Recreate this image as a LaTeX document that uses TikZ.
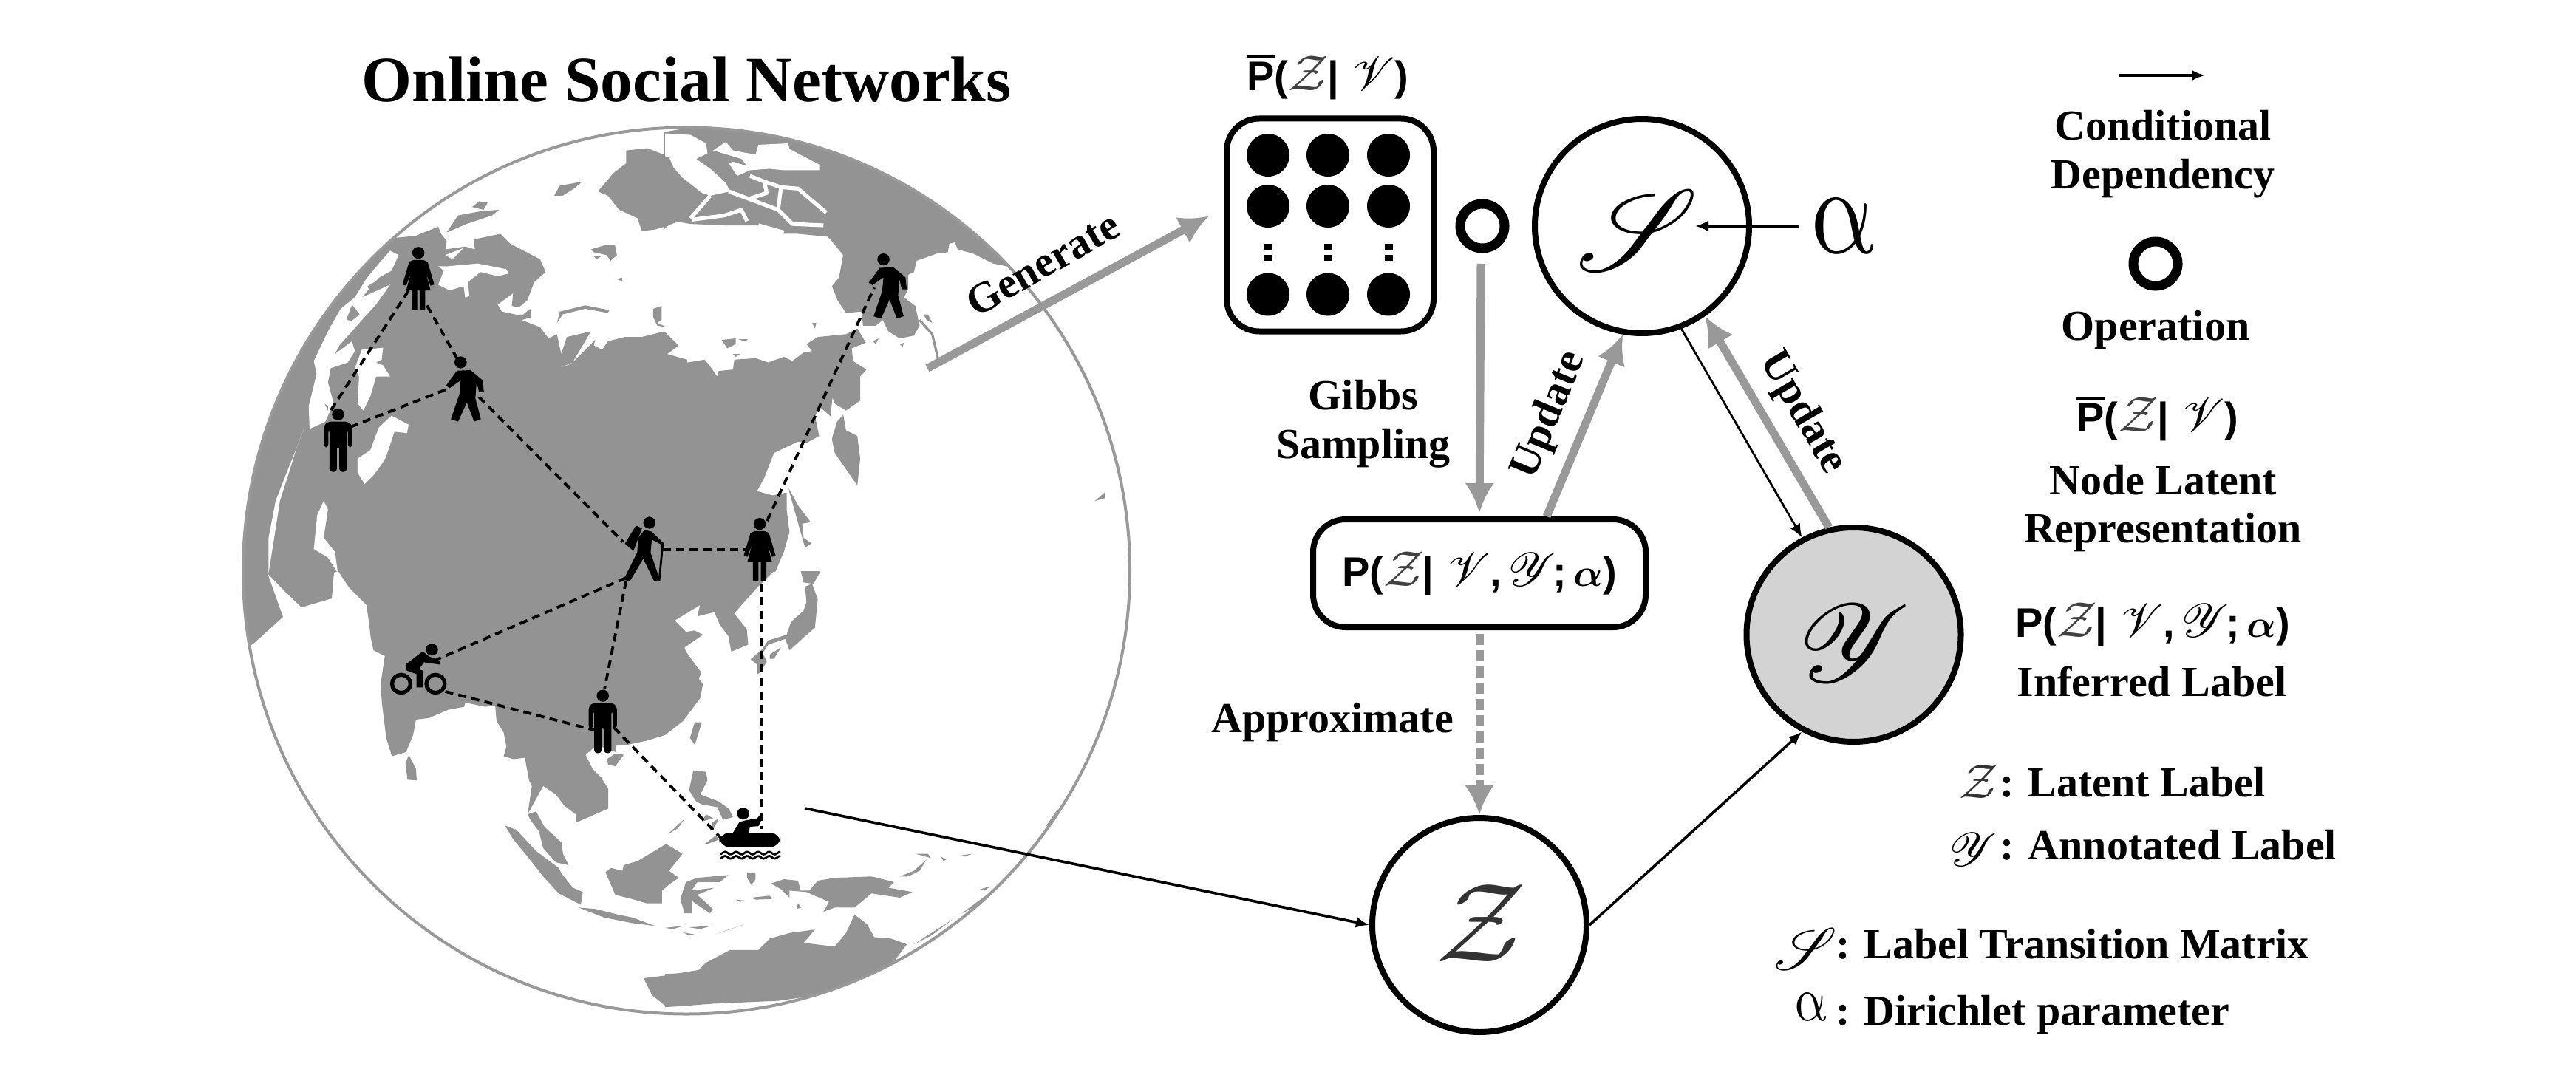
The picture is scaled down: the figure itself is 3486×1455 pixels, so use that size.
\documentclass[tikz,border=0pt]{standalone}
\usepackage{fontspec}
\usepackage{graphicx}
\usepackage{mathrsfs}
\setmainfont{Liberation Serif}
\newfontfamily\arialf{Liberation Sans}
\usetikzlibrary{arrows.meta}
\definecolor{landc}{HTML}{939393}
\definecolor{greya}{HTML}{999999}
\definecolor{ygrey}{HTML}{D3D3D3}
\newcommand\fsz[1]{\fontsize{#1}{#1}\selectfont}
\newcommand\scg[2]{\scalebox{#1}{\fontsize{10}{10}\selectfont$\mathscr{#2}$}}
\newcommand\calz[1]{\scalebox{#1}{\fontsize{10}{10}\selectfont$\mathcal{Z}$}}
\newcommand\bigalpha[2]{\scalebox{#1}[#2]{\fontsize{10}{10}\selectfont$\alpha$}}
\newcommand\Plab{{\fsz{28}\arialf\bfseries P(\textcolor{black!75}{\calz{3.4}}\hspace{-1pt}|\,\,\scg{3.2}{V},\,\scg{3.2}{Y}\hspace{-2pt};\,\scalebox{1.05}{\boldmath$\alpha$})}}
\newcommand\Pbar{{\fsz{28}\arialf\bfseries \rlap{\raisebox{0.78em}{\rule{0.667em}{0.06em}}}P(\textcolor{black!75}{\calz{3.4}}\hspace{-1pt}|\,\,\scg{3.2}{V})}}
\tikzset{
  land/.style={fill=landc,draw=none},
  sea/.style={fill=white,draw=none},
  chan/.style={draw=white,line width=2.6pt},
  bigc/.style={circle,draw=black,line width=4pt,minimum size=145pt,inner sep=0pt,outer sep=2pt},
  rbox/.style={draw=black,line width=4pt,rounded corners=22pt,inner sep=0pt,outer sep=2pt},
  ringn/.style={circle,draw=black,line width=6.5pt,minimum size=30pt,inner sep=0pt,outer sep=3pt},
  thinarr/.style={draw=black,line width=1.8pt,-{Latex[length=9pt,width=7.5pt]}},
  grayarr/.style={draw=greya,line width=5.5pt,-{Latex[length=20pt,width=20pt]}},
  link/.style={draw=black,line width=1.9pt,dash pattern=on 5.5pt off 3.6pt},
  serb/.style={font=\fsz{29}\bfseries,inner sep=0pt,outer sep=0pt},
  pers/.style={fill=black,draw=none},
  man/.pic={
    \fill[pers] (0,-43) circle [radius=10];
    \fill[pers,rounded corners=2pt] (-16,-31) -- (16,-31) -- (23,-25) -- (23,12) -- (16,12) -- (16,-18) -- (14,-18) -- (14,53) -- (2,53) -- (2,10) -- (-2,10) -- (-2,53) -- (-14,53) -- (-14,-18) -- (-16,-18) -- (-16,12) -- (-23,12) -- (-23,-25) -- cycle;
  },
  woman/.pic={
    \fill[pers] (0,-43) circle [radius=10];
    \fill[pers] (-8,-31) -- (8,-31) -- (15,-28) -- (26,10) -- (20,12) -- (12,-10) -- (20,20) -- (11,20) -- (11,53) -- (2,53) -- (2,20) -- (-2,20) -- (-2,53) -- (-11,53) -- (-11,20) -- (-20,20) -- (-12,-10) -- (-20,12) -- (-26,10) -- (-15,-28) -- cycle;
  },
  walker/.pic={
    \fill[pers] (-8,-45) circle [radius=10];
    \fill[pers] (-14,-31) -- (8,-32) -- (28,-15) -- (30,5) -- (22,5) -- (18,-12) -- (16,15) -- (25,50) -- (14,54) -- (2,22) -- (-12,54) -- (-24,50) -- (-10,8) -- (-8,-15) -- (-26,-2) -- (-32,-6) -- cycle;
  },
  hiker/.pic={
    \fill[pers] (8,-45) circle [radius=10];
    \fill[pers] (0,-33) -- (12,-30) -- (30,-12) -- (30,-7) -- (12,-17) -- (10,5) -- (25,50) -- (16,53) -- (-2,15) -- (-24,53) -- (-34,50) -- (-12,5) -- (-10,-20) -- cycle;
    \fill[pers] (-14,-40) -- (-4,-36) -- (-18,2) -- (-32,-10) -- cycle;
    \draw[black,line width=1.4pt] (30,-12) -- (24,52);
  },
  cyclist/.pic={
    \fill[pers] (23,-33) circle [radius=10];
    \draw[black,line width=2.6pt] (-27,24) circle [radius=15] (29,24) circle [radius=15];
    \fill[pers] (-20,-8) -- (8,-30) -- (18,-22) -- (36,-14) -- (36,-8) -- (10,-12) -- (2,0) -- (8,2) -- (8,30) -- (-2,30) -- (-2,8) -- (-18,2) -- cycle;
  },
  rafter/.pic={
    \fill[pers] (-11,-36) circle [radius=10];
    \fill[pers] (-30,0) -- (-17,-22) -- (-6,-25) -- (12,-28) -- (18,-36) -- (22,-32) -- (14,-15) -- (0,-14) -- (-2,0) -- cycle;
    \fill[pers,rounded corners=7pt] (-50,-4) rectangle (50,20);
    \foreach \yy in {30,37} \draw[black,line width=1.4pt] plot[domain=-48:50,samples=40] (\x,{\yy+2.2*sin(\x*20)});
  }
}
\begin{document}
\begin{tikzpicture}[x=0.5pt,y=-0.5pt]
\useasboundingbox (0,0) rectangle (3486,1455);
\begin{scope}
\clip (929,772.5) circle [radius=600];
% far west strip below the top-left quadrant
\fill[land] (300,700) -- (300,890) -- (342,872) -- (383,835) -- (362,776) -- (383,798) -- (408,822) -- (449,810) -- (452,775) -- (460,770) -- (470,700) -- cycle;
% ---- top-left quadrant
\begin{scope}[shift={(329,173)},scale=0.38265]
\fill[land] (0,1570) -- (-50,1200) -- (100,800) -- (300,550) -- (530,390) -- (610,382) -- (690,350) -- (700,375) -- (720,400) -- (715,430) -- (785,420) -- (820,430) -- (815,395) -- (910,375) -- (945,410) -- (1050,465) -- (1070,510) -- (1030,545) -- (1005,610) -- (975,635) -- (950,630) -- (955,585) -- (900,625) -- (915,650) -- (985,665) -- (1015,640) -- (1020,670) -- (985,680) -- (1050,705) -- (1080,745) -- (1110,730) -- (1125,800) -- (1145,740) -- (1230,720) -- (1165,830) -- (1105,855) -- (1160,835) -- (1245,750) -- (1240,770) -- (1270,785) -- (1290,755) -- (1350,740) -- (1410,740) -- (1490,720) -- (1540,770) -- (1500,800) -- (1570,820) -- (1570,1570) -- cycle;
\fill[sea] (690,490) -- (720,490) -- (830,480) -- (930,500) -- (940,515) -- (900,525) -- (840,510) -- (795,545) -- (800,595) -- (785,600) -- (780,560) -- (730,575) -- (690,555) -- (710,505) -- cycle;
\fill[sea] (715,450) -- (780,425) -- (740,465) -- cycle;
\fill[sea] (520,435) -- (550,450) -- (525,505) -- (480,530) -- (420,600) -- (520,555) -- (470,625) -- (420,680) -- (340,770) -- (325,800) -- (385,755) -- (395,790) -- (370,830) -- (310,850) -- (300,900) -- (320,975) -- (290,1040) -- (235,1065) -- (232,985) -- (260,870) -- (250,825) -- (300,720) -- (345,640) -- (395,600) -- (435,535) -- (480,480) -- cycle;
\fill[land] (440,560) -- (500,525) -- (445,572) -- cycle;
\fill[land] (365,680) -- (385,625) -- (412,660) -- (385,682) -- cycle;
\fill[land] (288,975) -- (300,985) -- (300,1000) -- cycle;
\fill[sea] (610,382) -- (660,330) -- (690,318) -- (640,362) -- cycle;
\fill[sea] (545,385) -- (620,340) -- (600,352) -- cycle;
\fill[sea] (420,785) -- (495,778) -- (490,820) -- (470,830) -- (495,840) -- (520,880) -- (470,880) -- (450,950) -- (425,1000) -- (405,975) -- (410,880) -- (395,850) -- cycle;
\fill[sea] (525,1018) -- (585,1050) -- (580,1080) -- (535,1075) -- (505,1165) -- (490,1190) -- (460,1230) -- (430,1260) -- (405,1220) -- (405,1170) -- (450,1140) -- (480,1060) -- cycle;
\fill[sea] (215,1065) -- (190,1130) -- (150,1230) -- (115,1320) -- (90,1450) -- (90,1575) -- (110,1450) -- (130,1320) -- (165,1210) -- (190,1130) -- cycle;
\fill[sea] (285,1320) -- (300,1350) -- (285,1450) -- (325,1500) -- (335,1575) -- (300,1520) -- (250,1490) -- (262,1370) -- cycle;
\fill[land] (1355,80) -- (1430,72) -- (1500,100) -- (1510,140) -- (1570,220) -- (1570,320) -- (1490,350) -- (1455,360) -- (1410,365) -- (1395,320) -- (1330,290) -- (1290,240) -- (1255,225) -- (1310,160) -- (1355,125) -- cycle;
\fill[land] (1100,240) -- (1120,205) -- (1200,190) -- (1170,215) -- (1130,240) -- cycle;
\fill[land] (810,280) -- (835,260) -- (865,265) -- (850,290) -- cycle;
\fill[land] (720,370) -- (760,310) -- (840,295) -- (905,290) -- (880,310) -- (790,340) -- cycle;
\fill[land] (1230,430) -- (1280,415) -- (1315,415) -- (1322,450) -- (1300,470) -- (1285,450) -- (1240,440) -- cycle;
\fill[land] (1240,455) -- (1265,455) -- (1250,465) -- cycle;
\fill[land] (1320,535) -- (1340,530) -- (1340,542) -- cycle;
\fill[land] (1110,690) -- (1120,650) -- (1210,628) -- (1295,645) -- (1290,655) -- (1210,640) -- (1130,660) -- cycle;
\fill[land] (1450,640) -- (1480,630) -- (1480,680) -- (1465,690) -- (1498,705) -- (1465,700) -- (1450,670) -- cycle;
\end{scope}
% ---- top-right quadrant
\begin{scope}[shift={(900,173)},scale=0.38265]
\fill[land] (-5,15) -- (200,-20) -- (600,60) -- (1000,290) -- (1240,500) -- (1210,490) -- (1160,480) -- (1090,445) -- (1035,430) -- (1025,405) -- (1005,410) -- (1000,440) -- (960,445) -- (890,470) -- (880,510) -- (860,520) -- (860,570) -- (845,600) -- (885,630) -- (900,700) -- (880,735) -- (830,745) -- (790,720) -- (770,680) -- (745,700) -- (700,700) -- (695,650) -- (640,655) -- (610,610) -- (590,560) -- (615,530) -- (630,450) -- (585,395) -- (575,385) -- (470,375) -- (420,375) -- (330,345) -- (210,345) -- (90,340) -- (30,330) -- (-5,360) -- cycle;
\fill[sea] (0,20) -- (90,25) -- (145,55) -- (150,90) -- (110,110) -- (160,145) -- (215,195) -- (230,225) -- (160,240) -- (130,230) -- (60,175) -- (30,140) -- (15,105) -- (0,100) -- cycle;
\fill[sea] (215,50) -- (240,80) -- (320,95) -- (330,60) -- (435,55) -- (440,75) -- (545,130) -- (545,150) -- (420,150) -- (370,145) -- (300,150) -- (255,170) -- (225,125) -- (240,120) -- (290,135) -- (270,110) -- (170,80) -- cycle;
\draw[chan] (160,240) -- (90,320);
\draw[chan] (95,325) -- (210,310) -- (270,290) -- (290,330);
\draw[chan] (225,225) -- (320,260) -- (400,290);
\draw[chan] (300,170) -- (350,190) -- (360,230) -- (300,250);
\draw[chan] (410,210) -- (470,215) -- (570,300);
\draw[chan] (400,290) -- (450,340) -- (560,345);
\draw[chan] (330,345) -- (420,370);
\draw[chan] (350,190) -- (410,210) -- (400,290);
\draw[chan] (965,470) -- (990,485);
\draw[draw=landc,line width=1.6pt] (900,680) -- (945,730) -- (965,815);
\fill[land] (915,660) -- (930,660) -- (945,690) -- (925,680) -- cycle;
\fill[land] (0,800) -- (20,805) -- (80,830) -- (140,820) -- (160,845) -- (185,880) -- (190,860) -- (240,855) -- (245,820) -- (320,815) -- (365,830) -- (420,810) -- (450,825) -- (490,795) -- (520,790) -- (500,765) -- (540,740) -- (640,730) -- (660,720) -- (680,710) -- (710,760) -- (660,780) -- (665,825) -- (712,855) -- (690,880) -- (690,965) -- (640,1000) -- (600,975) -- (592,955) -- (585,1020) -- (550,990) -- (530,1020) -- (545,1090) -- (500,1115) -- (470,1110) -- (385,1150) -- (350,1240) -- (325,1285) -- (380,1300) -- (430,1290) -- (430,1350) -- (440,1430) -- (420,1500) -- (390,1570) -- (0,1570) -- cycle;
\fill[land] (630,1015) -- (640,1070) -- (680,1090) -- (690,1170) -- (680,1265) -- (600,1150) -- (590,1100) -- (608,1040) -- cycle;
\fill[land] (437,1275) -- (470,1335) -- (515,1395) -- (485,1400) -- (490,1450) -- (518,1470) -- (495,1485) -- (440,1290) -- cycle;
\fill[land] (735,755) -- (755,745) -- (745,765) -- cycle;
\fill[land] (830,765) -- (845,760) -- (840,775) -- cycle;
\fill[land] (200,750) -- (250,745) -- (250,765) -- (220,780) -- cycle;
\fill[land] (260,748) -- (292,748) -- (285,756) -- cycle;
\fill[land] (240,800) -- (265,800) -- (250,810) -- cycle;
\fill[land] (520,690) -- (535,690) -- (530,710) -- cycle;
\fill[land] (1520,1320) -- (1555,1290) -- (1555,1310) -- cycle;
\end{scope}
% ---- bottom-left quadrant
\begin{scope}[shift={(450,773)},scale=0.38265]
\fill[land] (20,-5) -- (20,0) -- (60,60) -- (120,120) -- (130,190) -- (135,235) -- (145,280) -- (185,300) -- (170,400) -- (175,470) -- (190,590) -- (210,655) -- (260,640) -- (285,580) -- (295,525) -- (340,520) -- (410,490) -- (465,480) -- (470,465) -- (540,480) -- (575,475) -- (580,530) -- (605,570) -- (615,620) -- (605,655) -- (640,665) -- (680,660) -- (695,740) -- (705,760) -- (690,860) -- (745,760) -- (790,790) -- (820,830) -- (860,860) -- (860,890) -- (975,840) -- (975,770) -- (950,730) -- (920,700) -- (895,650) -- (935,615) -- (1000,640) -- (1005,615) -- (1040,615) -- (1110,600) -- (1176,580) -- (1240,530) -- (1300,450) -- (1310,400) -- (1295,380) -- (1305,360) -- (1250,285) -- (1245,270) -- (1310,225) -- (1280,210) -- (1250,215) -- (1210,175) -- (1300,120) -- (1290,160) -- (1350,145) -- (1370,190) -- (1400,230) -- (1410,285) -- (1470,260) -- (1465,205) -- (1420,150) -- (1500,60) -- (1566,-5) -- cycle;
\fill[land] (258,680) -- (270,650) -- (295,700) -- (298,740) -- (265,738) -- cycle;
\fill[land] (610,900) -- (650,915) -- (720,990) -- (800,1050) -- (810,1070) -- (850,1120) -- (885,1135) -- (878,1180) -- (800,1140) -- (745,1080) -- (690,1010) -- (640,950) -- cycle;
\fill[land] (690,860) -- (720,850) -- (750,905) -- (810,960) -- (815,1000) -- (835,1040) -- (790,1030) -- (745,980) -- (730,920) -- (700,880) -- cycle;
\fill[land] (870,1190) -- (930,1195) -- (1010,1215) -- (1060,1225) -- (1140,1255) -- (1060,1245) -- (960,1225) -- cycle;
\fill[land] (965,1065) -- (985,1050) -- (1025,1060) -- (1030,1040) -- (1080,1025) -- (1180,965) -- (1238,1000) -- (1190,1060) -- (1225,1085) -- (1195,1105) -- (1165,1130) -- (1165,1175) -- (1110,1175) -- (1060,1160) -- (1000,1145) -- (985,1110) -- cycle;
\fill[land] (970,665) -- (1000,645) -- (1030,650) -- (1000,690) -- (975,685) -- cycle;
\fill[land] (1250,1100) -- (1290,1085) -- (1400,1075) -- (1370,1100) -- (1290,1100) -- (1270,1130) -- (1350,1120) -- (1290,1145) -- (1345,1195) -- (1335,1210) -- (1290,1180) -- (1270,1165) -- (1270,1210) -- (1245,1210) -- (1230,1160) -- cycle;
\fill[land] (1175,1262) -- (1240,1255) -- (1205,1266) -- cycle;
\fill[land] (1240,1278) -- (1280,1285) -- (1260,1288) -- cycle;
\fill[land] (1260,1260) -- (1340,1255) -- (1300,1266) -- cycle;
\fill[land] (1355,1285) -- (1455,1250) -- (1400,1268) -- cycle;
\fill[land] (1100,1440) -- (1180,1430) -- (1300,1410) -- (1320,1500) -- (1180,1540) -- (1130,1500) -- cycle;
\end{scope}
% ---- bottom-right quadrant
\begin{scope}[shift={(900,773)},scale=0.38265]
\fill[land] (480,0) -- (550,0) -- (525,45) -- (490,40) -- cycle;
\fill[land] (495,55) -- (520,45) -- (540,100) -- (530,200) -- (490,235) -- (440,280) -- (425,240) -- (365,260) -- (345,290) -- (360,320) -- (335,360) -- (325,365) -- (325,330) -- (302,312) -- (340,280) -- (365,245) -- (430,225) -- (445,180) -- (490,140) -- (500,110) -- cycle;
\fill[land] (370,295) -- (410,270) -- (385,310) -- (370,310) -- cycle;
\fill[land] (105,535) -- (130,535) -- (105,615) -- (88,590) -- cycle;
\fill[land] (100,705) -- (145,710) -- (150,740) -- (125,790) -- (190,815) -- (225,840) -- (240,870) -- (205,880) -- (185,835) -- (130,825) -- (110,815) -- (85,775) -- cycle;
\fill[land] (145,860) -- (170,875) -- (130,885) -- cycle;
\fill[land] (165,890) -- (190,875) -- (170,915) -- cycle;
\fill[land] (140,965) -- (180,935) -- (190,950) -- (150,965) -- cycle;
\fill[land] (10,930) -- (70,875) -- (45,910) -- cycle;
\fill[land] (375,1105) -- (420,1090) -- (470,1095) -- (480,1130) -- (510,1130) -- (540,1095) -- (600,1085) -- (730,1080) -- (810,1100) -- (790,1120) -- (875,1135) -- (830,1155) -- (730,1140) -- (670,1190) -- (600,1190) -- (560,1205) -- (580,1170) -- (500,1135) -- (440,1130) -- (440,1155) -- (410,1125) -- cycle;
\fill[land] (290,1065) -- (320,1070) -- (320,1090) -- (305,1110) -- (290,1085) -- cycle;
\fill[land] (250,1162) -- (280,1165) -- (265,1170) -- cycle;
\fill[land] (305,1155) -- (370,1148) -- (378,1160) -- (320,1162) -- cycle;
\fill[land] (470,1175) -- (482,1190) -- (465,1195) -- cycle;
\fill[land] (885,1000) -- (930,1000) -- (940,1015) -- (905,1005) -- cycle;
\fill[land] (830,1080) -- (880,1060) -- (925,1020) -- (900,1060) -- (860,1080) -- cycle;
\fill[land] (975,1010) -- (995,1020) -- (985,1025) -- cycle;
\fill[land] (1050,1005) -- (1085,1000) -- (1060,1010) -- cycle;
\fill[land] (1115,1125) -- (1150,1115) -- (1130,1130) -- cycle;
\fill[land] (880,1320) -- (1020,1230) -- (940,1290) -- cycle;
\fill[land] (1050,1210) -- (1145,1140) -- (1090,1190) -- cycle;
\fill[land] (1345,905) -- (1390,840) -- (1365,890) -- cycle;
\fill[land] (0,1425) -- (110,1420) -- (145,1385) -- (230,1340) -- (330,1340) -- (370,1300) -- (440,1280) -- (530,1268) -- (490,1315) -- (600,1328) -- (640,1280) -- (670,1215) -- (690,1230) -- (715,1250) -- (740,1295) -- (800,1300) -- (855,1320) -- (810,1380) -- (730,1425) -- (640,1465) -- (540,1500) -- (400,1520) -- (170,1530) -- (40,1540) -- (0,1542) -- cycle;
\end{scope}
% social network
\begin{scope}[shift={(300,130)},xscale=0.8292,yscale=0.81]
\coordinate (w1a) at (305,325); \coordinate (m1a) at (175,530);
\coordinate (w1b) at (335,350); \coordinate (k1a) at (385,440);
\coordinate (m1b) at (210,553); \coordinate (k1b) at (372,488);
\coordinate (k1c) at (420,503); \coordinate (ha) at (655,745);
\coordinate (hb) at (720,758);  \coordinate (w2a) at (855,758);
\coordinate (w2b) at (890,710); \coordinate (k2a) at (1065,320);
\coordinate (hc) at (660,805);  \coordinate (ca) at (350,942);
\coordinate (hd) at (660,810);  \coordinate (m2a) at (625,990);
\coordinate (cb) at (365,995);  \coordinate (m2b) at (610,1060);
\coordinate (m2c) at (640,1055);\coordinate (ra) at (815,1240);
\coordinate (w2c) at (880,815); \coordinate (rb) at (880,1225);
\draw[link] (w1a) -- (m1a);
\draw[link] (w1b) -- (k1a);
\draw[link] (m1b) -- (k1b);
\draw[link] (k1c) -- (ha);
\draw[link] (hb) -- (w2a);
\draw[link] (w2b) -- (k2a);
\draw[link] (hc) -- (ca);
\draw[link] (hd) -- (m2a);
\draw[link] (cb) -- (m2b);
\draw[link] (m2c) -- (ra);
\draw[link] (w2c) -- (rb);
\pic[transform shape] at (321,305) {woman};
\pic[transform shape] at (398,490) {walker};
\pic[transform shape] at (190,575) {man};
\pic[transform shape] at (690,758) {hiker};
\pic[transform shape] at (878,758) {woman};
\pic[transform shape] at (1088,318) {walker};
\pic[transform shape] at (320,958) {cyclist};
\pic[transform shape] at (622,1045) {man};
\pic[transform shape] at (862,1235) {rafter};
\end{scope}
\end{scope}
\draw[greya,line width=2pt] (929,772.5) circle [radius=600];
\node[font=\fsz{43.7}\bfseries,inner sep=0pt] (title) at (929,108) {Online Social Networks};
% main diagram
\node[rbox,minimum width=140pt,minimum height=144pt] (box) at (1800,304.5) {};
\foreach \xx in {1716,1797,1879} {
  \foreach \yy in {210,279,398.5} \fill[black] (\xx,\yy) circle [radius=29];
  \fill[black] (\xx-5,330) rectangle (\xx+6,339);
  \fill[black] (\xx-5,345) rectangle (\xx+6,353);
}
\node[ringn] (ring) at (2006,306) {};
\node[bigc] (S) at (2222,306) {};
\node[inner sep=0pt] (Sl) at (2216,312) {\scg{7.8}{S}};
\begin{scope}[shift={(2494,306)},xslant=-0.2,transform shape]
\node[inner sep=0pt] (alpha) at (0,0) {\bigalpha{6.8}{8.5}};
\end{scope}
\node[rbox,minimum width=225pt,minimum height=73pt] (pbox) at (2002,776) {};
\node[inner sep=0pt] (pl) at (2002,776) {\Plab};
\node[bigc] (Z) at (2002,1252) {};
\node[inner sep=0pt] (Zl) at (2005,1250) {\textcolor{black!80}{\calz{7.6}}};
\node[bigc,fill=ygrey] (Y) at (2508.5,859) {};
\node[inner sep=0pt] (Yl) at (2510,871) {\scg{7.5}{Y}};
\node[inner sep=0pt] (pb) at (1797,105) {\Pbar};
% arrows
\coordinate (genstart) at (1255,498.5);
\coordinate (rfa) at (1089,1094);
\coordinate (le) at (2868,102);
\coordinate (lf) at (2984,102);
\coordinate (alst) at (2435,306);
\draw[grayarr] (genstart) -- ([shift={(-10pt,6pt)}]box.west);
\draw[grayarr] ([xshift=-1pt,yshift=-7.5pt]ring.south) -- ([yshift=2.5pt]pbox.north);
\draw[grayarr] ([xshift=45.5pt]pbox.north) -- (S.-100);
\draw[grayarr] (Y.103) -- (S.-55);
\draw[grayarr,dash pattern=on 7.5pt off 3.5pt] ([yshift=-2.5pt]pbox.south) -- (Z.north);
\draw[thinarr] (alst) -- ([xshift=36pt]S.center);
\draw[thinarr,line width=1.4pt] (S.-69) -- (Y.118);
\draw[thinarr] (rfa) -- (Z.west);
\draw[thinarr] (Z.east) -- (Y.242);
\draw[thinarr] (le) -- (lf);
% labels
\node[serb,rotate=30] (lgen) at (1411,357) {Generate};
\node[serb] (lg1) at (1845,535) {Gibbs};
\node[serb] (lg2) at (1845,607) {Sampling};
\node[serb,rotate=67.5] (lu1) at (2097,562) {Update};
\node[serb,rotate=-60] (lu2) at (2439,559) {Update};
\node[serb] (lap) at (1803,978) {Approximate};
% legend
\node[serb] (ld1) at (2927,170) {Conditional};
\node[serb] (ld2) at (2927,242) {Dependency};
\node[ringn] (lring) at (2917,357) {};
\node[serb] (lop) at (2917,447) {Operation};
\node[inner sep=0pt] (lpb) at (2920,567) {\Pbar};
\node[serb] (ln1) at (2927,650) {Node Latent};
\node[serb] (ln2) at (2927,721) {Representation};
\node[inner sep=0pt] (lpl) at (2913,845) {\Plab};
\node[serb] (lil) at (2912,922) {Inferred Label};
\node[serb,anchor=base west] (t1) at (2706,1078) {: Latent Label};
\node[serb,anchor=base west] (t2) at (2706,1163) {: Annotated Label};
\node[serb,anchor=base west] (t3) at (2484,1297) {: Label Transition Matrix};
\node[serb,anchor=base west] (t4) at (2484,1387) {: Dirichlet parameter};
\node[inner sep=0pt] (g1) at (2678,1058) {\textcolor{black!80}{\calz{3.3}}};
\node[inner sep=0pt] (g2) at (2671,1150) {\scg{3.2}{Y}};
\node[inner sep=0pt] (g3) at (2444,1284) {\scg{4}{S}};
\begin{scope}[shift={(2451,1363)},xslant=-0.2,transform shape]
\node[inner sep=0pt] (g4) at (0,0) {\bigalpha{3.4}{4.3}};
\end{scope}
\end{tikzpicture}
\end{document}
